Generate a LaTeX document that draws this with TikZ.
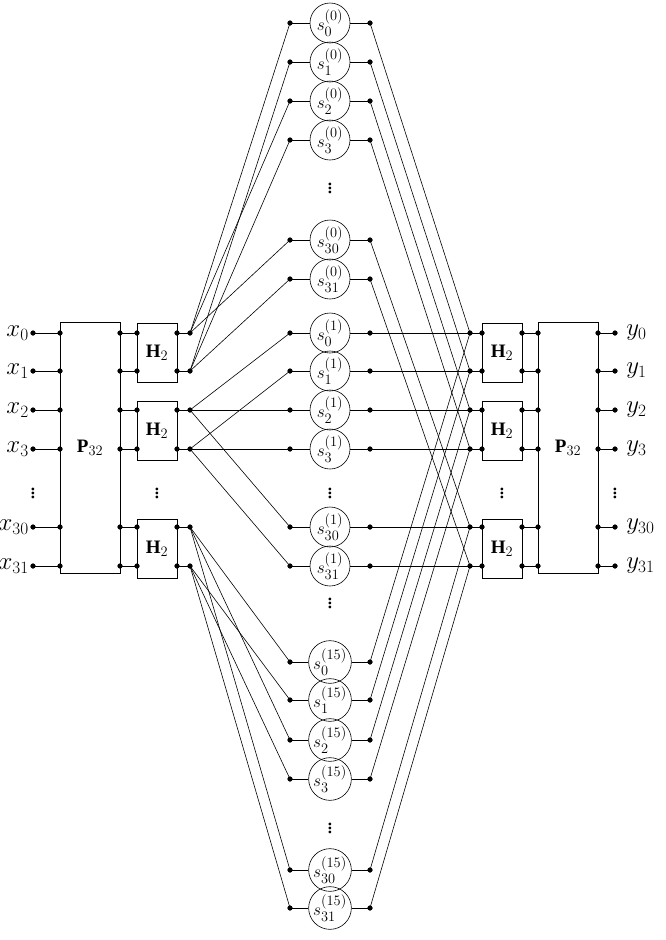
\documentclass[tikz,border=0pt]{standalone}
\usepackage{fontspec}
\setmainfont{Liberation Serif}
\usepackage{amsmath}
\usetikzlibrary{positioning}
\tikzset{%
   dot/.style={circle, inner sep=0mm, outer sep=0mm, minimum size=1.6mm, draw=black, fill=black},
   hbox/.style={draw, minimum width=40pt, minimum height=59pt, inner sep=0pt, font=\fontsize{19}{19}\selectfont},
   pbox/.style={draw, minimum width=60pt, minimum height=251pt, inner sep=0pt, font=\fontsize{19}{19}\selectfont},
   snode/.style={circle, draw, minimum size=40pt, inner sep=0pt, font=\fontsize{19}{19}\selectfont},
   lab/.style={font=\fontsize{23}{23}\selectfont, inner sep=1pt},
}
\begin{document}
\begin{tikzpicture}[x=1pt, y=-1pt, line width=0.6pt]
      \useasboundingbox (0,0) rectangle (665,940);
      % boxes
      \node[pbox] (pl) at (90,447.5) {$\mathbf{P}_{32}$};
      \node[pbox] (pr) at (568,447.5) {$\mathbf{P}_{32}$};
      \foreach \k/\y in {a/352.5, b/430.5, c/548.5} {
         \node[hbox] (hl\k) at (157,\y) {$\mathbf{H}_2$};
         \node[hbox] (hr\k) at (502,\y) {$\mathbf{H}_2$};
      }
      % ports of the outer rows
      \foreach \i/\y in {0/333, 1/371, 2/410, 3/449, 30/527, 31/566} {
         \node[lab, anchor=east] (x\i) at (30,\y) {$x_{\i}$};
         \node[dot] (xa\i) at (33,\y) {};
         \node[dot] (xb\i) at (60,\y) {};
         \node[dot] (xc\i) at (120,\y) {};
         \node[dot] (xd\i) at (137,\y) {};
         \node[dot] (xe\i) at (177,\y) {};
         \node[dot] (xf\i) at (190,\y) {};
         \node[dot] (ya\i) at (470,\y) {};
         \node[dot] (yb\i) at (482,\y) {};
         \node[dot] (yc\i) at (522,\y) {};
         \node[dot] (yd\i) at (538,\y) {};
         \node[dot] (ye\i) at (598,\y) {};
         \node[dot] (yf\i) at (615,\y) {};
         \node[lab, anchor=west] (y\i) at (625,\y) {$y_{\i}$};
         \draw (xa\i) -- (xb\i);
         \draw (xc\i) -- (xd\i);
         \draw (xe\i) -- (xf\i);
         \draw (ya\i) -- (yb\i);
         \draw (yc\i) -- (yd\i);
         \draw (ye\i) -- (yf\i);
      }
      % butterflies: group f, state i
      \foreach \f/\b/\ya/\yb/\yc/\yd/\ye/\yg in {0/0/23/62/101/140/240/279, 1/2/333/371/410/449/527/566, 15/30/662/700/740/779/870/908} {
         \foreach \i/\y in {0/\ya, 1/\yb, 2/\yc, 3/\yd, 30/\ye, 31/\yg} {
            \node[snode] (s\f-\i) at (330,\y) {$s_{\i}^{(\f)}$};
            \node[dot] (sl\f-\i) at (290,\y) {};
            \node[dot] (sr\f-\i) at (370,\y) {};
            \draw (sl\f-\i) -- (s\f-\i) -- (sr\f-\i);
            \draw (sr\f-\i) -- (ya\i);
         }
         \pgfmathtruncatemacro{\bb}{\b+1}
         \foreach \i in {0,2,30} \draw (xf\b) -- (sl\f-\i);
         \foreach \i in {1,3,31} \draw (xf\bb) -- (sl\f-\i);
      }
      % dots
      \foreach \n/\x/\y in {d1/33/490, d2/157/490, d3/330/185, d4/330/490, d5/330/600, d6/330/825, d7/502/490, d8/615/490}
         \node[lab, inner sep=0pt] (\n) at (\x,\y) {$\vdots$};
\end{tikzpicture}
\end{document}
